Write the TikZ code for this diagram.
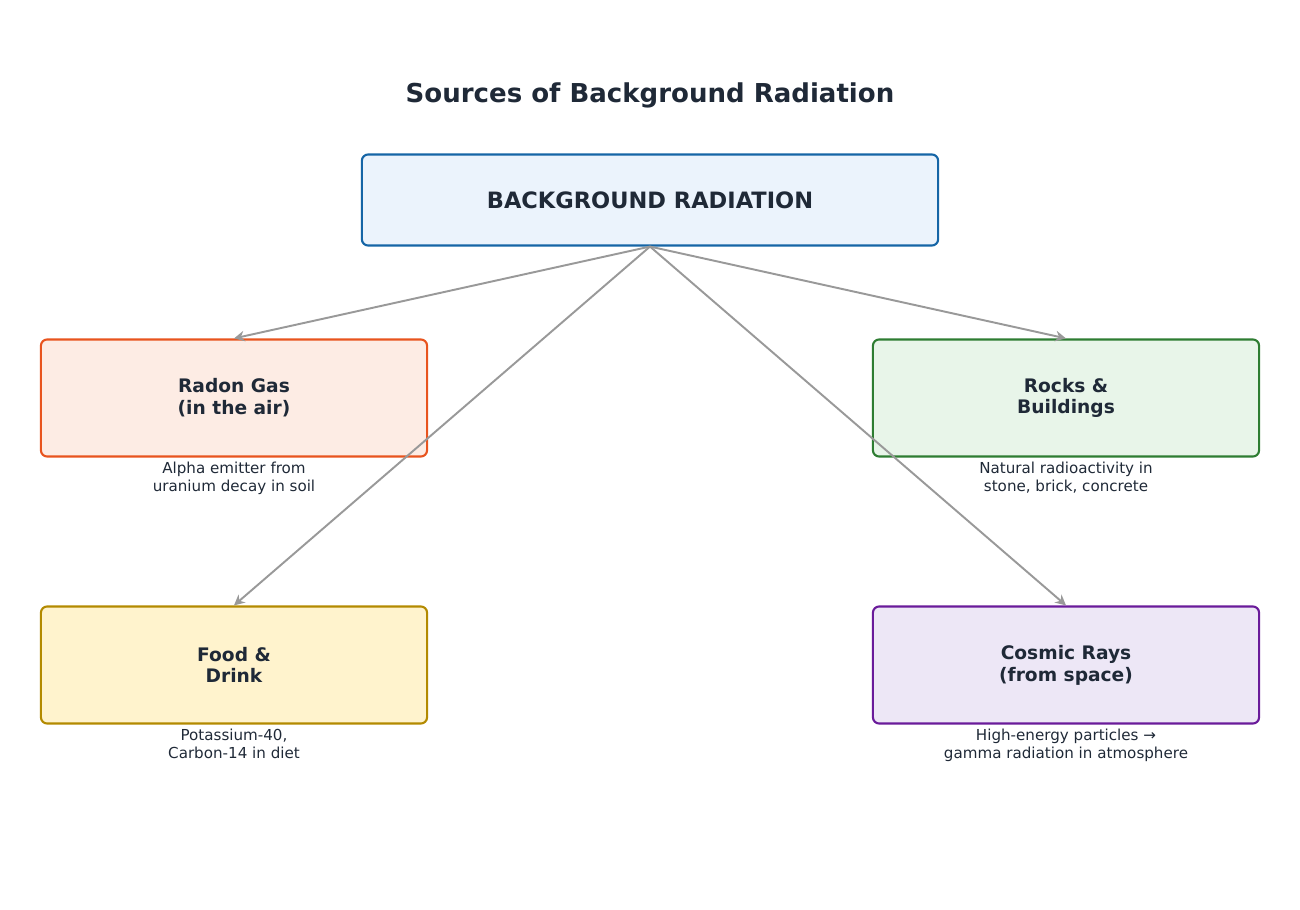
\documentclass[tikz,border=0pt]{standalone}
\usepackage{fontspec}
\setmainfont{DejaVu Sans}
\usetikzlibrary{positioning,arrows.meta}
\definecolor{txt}{HTML}{1F2937}
\definecolor{arr}{HTML}{999999}
\definecolor{bgline}{HTML}{1565A6}
\definecolor{bgfill}{HTML}{EBF3FC}
\definecolor{radonline}{HTML}{E8541E}
\definecolor{radonfill}{HTML}{FDECE4}
\definecolor{rocksline}{HTML}{2E7D32}
\definecolor{rocksfill}{HTML}{E8F5E9}
\definecolor{foodline}{HTML}{B38A00}
\definecolor{foodfill}{HTML}{FFF3CD}
\definecolor{cosmicline}{HTML}{6A1B9A}
\definecolor{cosmicfill}{HTML}{EDE7F6}
\begin{document}
\begin{tikzpicture}[x=0.01cm,y=-0.01cm,
  box/.style={draw,rounded corners=1.8pt,line width=.6pt,text=txt,align=center,minimum width=3.86cm,minimum height=1.17cm,font=\fontsize{5.3}{6.2}\selectfont\bfseries},
  sub/.style={text=txt,align=center,font=\fontsize{4.3}{4.9}\selectfont,inner sep=0pt},
  link/.style={draw=arr,line width=.55pt,-{Stealth[length=3pt,width=3pt]}}]
\useasboundingbox (0,0) rectangle (1300,910);
\node[text=txt,font=\fontsize{7.4}{8}\selectfont\bfseries] (title) at (650,95) {Sources of Background Radiation};
\node[box,draw=bgline,fill=bgfill,minimum width=5.76cm,minimum height=0.91cm,font=\fontsize{6.4}{7}\selectfont\bfseries] (bg) at (650,200) {BACKGROUND RADIATION};
\node[box,draw=radonline,fill=radonfill] (radon) at (234,398) {Radon Gas\\(in the air)};
\node[box,draw=rocksline,fill=rocksfill] (rocks) at (1066,398) {Rocks \&\\Buildings};
\node[box,draw=foodline,fill=foodfill] (food) at (234,665) {Food \&\\Drink};
\node[box,draw=cosmicline,fill=cosmicfill] (cosmic) at (1066,665) {Cosmic Rays\\(from space)};
\node[sub,below=0.04cm of radon] (radonsub) {Alpha emitter from\\uranium decay in soil};
\node[sub,below=0.04cm of rocks] (rockssub) {Natural radioactivity in\\stone, brick, concrete};
\node[sub,below=0.04cm of food] (foodsub) {Potassium-40,\\Carbon-14 in diet};
\node[sub,below=0.04cm of cosmic] (cosmicsub) {High-energy particles →\\gamma radiation in atmosphere};
\draw[link] (bg.south) -- (radon.north);
\draw[link] (bg.south) -- (rocks.north);
\draw[link] (bg.south) -- (food.north);
\draw[link] (bg.south) -- (cosmic.north);
\end{tikzpicture}
\end{document}
